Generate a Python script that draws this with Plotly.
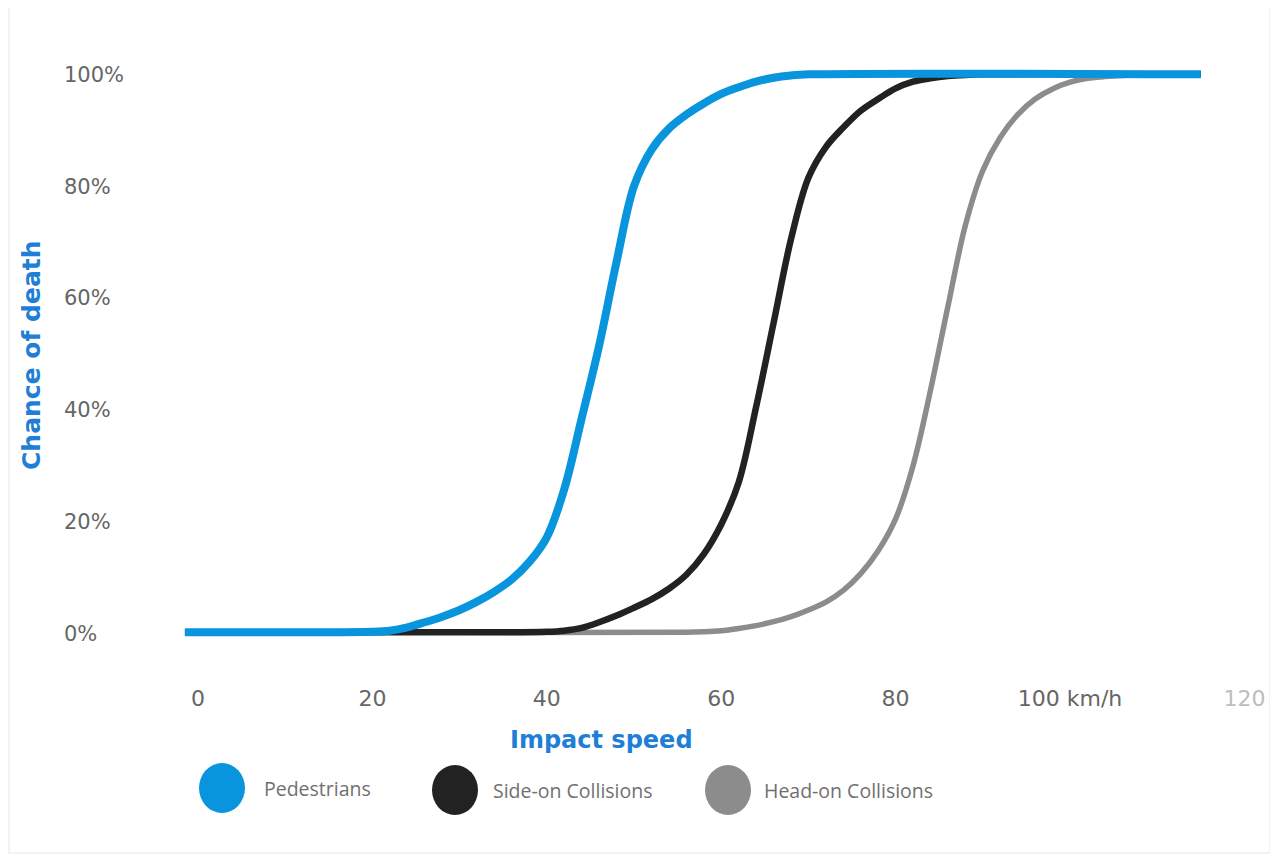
import plotly.graph_objects as go

# ---- data (impact speed km/h, chance of death %) ----
ped_speed = [-1.5, 10, 20, 22, 24, 26, 28, 30, 32, 34, 36, 38, 40, 42, 44, 46, 48, 50, 52, 54, 56, 58,
             60, 62, 64, 66, 68, 70, 115]
ped_death = [0.2, 0.2, 0.3, 0.5, 1.1, 2.0, 3.0, 4.2, 5.7, 7.5, 9.7, 12.8, 17.2, 25.8, 38.5, 51.5, 66.5, 80.0,
             86.5, 90.3, 92.8, 94.8, 96.5, 97.7, 98.7, 99.4, 99.8, 100, 100]

side_speed = [-1.5, 20, 40, 42, 44, 46, 48, 50, 52, 54, 56, 58, 60, 62, 64, 66, 68, 70, 72, 74, 76, 78,
              80, 82, 84, 86, 88, 90, 115]
side_death = [0.2, 0.2, 0.3, 0.5, 1.0, 2.0, 3.2, 4.6, 6.1, 8.0, 10.5, 14.2, 19.5, 27.0, 40.5, 55.5, 70.5, 81.5,
              87.0, 90.5, 93.5, 95.6, 97.5, 98.7, 99.3, 99.7, 99.9, 100, 100]

head_speed = [-1.5, 30, 56, 58, 60, 62, 64, 66, 68, 70, 72, 74, 76, 78, 80, 82, 84, 86, 88, 90, 92, 94,
              96, 98, 100, 102, 104, 106, 108, 110, 115]
head_death = [0.2, 0.2, 0.2, 0.3, 0.5, 0.9, 1.4, 2.1, 3.0, 4.2, 5.6, 7.7, 10.7, 14.8, 20.5, 30.0, 43.5, 58.5,
              73.0, 82.8, 88.7, 92.8, 95.6, 97.4, 98.6, 99.3, 99.6, 99.8, 99.9, 100, 100]

series_names = ["Pedestrians", "Side-on Collisions", "Head-on Collisions"]
series_colors = ["#0895dd", "#222222", "#8c8c8c"]

x_tickvals = [0, 20, 40, 60, 80, 100, 120]
x_ticktext = ["0", "20", "40", "60", "80", "100 km/h", "<span style='color:#bdbdbd'>120</span>"]
y_tickvals = [0, 20, 40, 60, 80, 100]
y_ticktext = ["0%", "20%", "40%", "60%", "80%", "100%"]

# page offset caused by default body margin
OFF = 8
W, H = 1278 - OFF, 857 - OFF
ML, MR, MT, MB = 47, 7, 44, 190
PW, PH = W - ML - MR, H - MT - MB


def px(xp):  # page pixel x -> paper
    return (xp - OFF - ML) / PW


def py(yp):  # page pixel y -> paper
    return (H - MB - (yp - OFF)) / PH


fig = go.Figure()
# draw gray, black, then blue on top
for sx, sy, name, col, wd in [
    (head_speed, head_death, series_names[2], series_colors[2], 5.5),
    (side_speed, side_death, series_names[1], series_colors[1], 6.5),
    (ped_speed, ped_death, series_names[0], series_colors[0], 8),
]:
    fig.add_trace(go.Scatter(
        x=sx, y=sy, mode="lines", name=name,
        line=dict(color=col, width=wd, shape="spline", smoothing=1.0),
        showlegend=False, hoverinfo="skip",
    ))

fig.update_layout(
    width=W, height=H,
    margin=dict(l=ML, r=MR, t=MT, b=MB),
    paper_bgcolor="white", plot_bgcolor="white",
    xaxis=dict(
        range=[-16.4, 123.05], tickvals=x_tickvals, ticktext=x_ticktext,
        showgrid=False, zeroline=False, showline=False, ticks="",
        tickfont=dict(family="DejaVu Sans", size=22, color="#666666"), ticklabelstandoff=16,
    ),
    yaxis=dict(
        range=[-6, 104], tickvals=y_tickvals, ticktext=y_ticktext,
        showgrid=False, zeroline=False, showline=False, ticks="",
        tickfont=dict(family="DejaVu Sans", size=21, color="#666666"),
        ticklabelposition="inside", ticklabelstandoff=6,
    ),
)

annotations = [
    dict(text="<b>Impact speed</b>", x=px(601), y=py(740), xref="paper", yref="paper",
         showarrow=False, xanchor="center", yanchor="middle",
         font=dict(family="DejaVu Sans", size=24, color="#1f7fd6")),
    dict(text="<b>Chance of death</b>", x=px(31), y=py(355), xref="paper", yref="paper",
         showarrow=False, xanchor="center", yanchor="middle", textangle=-90,
         font=dict(family="DejaVu Sans", size=25, color="#1f7fd6")),
]

shapes = [
    dict(type="rect", xref="paper", yref="paper", x0=px(9), x1=px(1270), y0=py(853), y1=py(6),
         line=dict(color="#eeeeee", width=1.5), fillcolor="rgba(0,0,0,0)", layer="below"),
]

legend_items = [
    (222, 788, 262),
    (455, 790, 491),
    (728, 790, 762),
]
for (cx, cy, tx), name, col in zip(legend_items, series_names, series_colors):
    shapes.append(dict(type="circle", xref="paper", yref="paper",
                       x0=px(cx - 23), x1=px(cx + 23), y0=py(cy + 25), y1=py(cy - 25),
                       fillcolor=col, line=dict(color=col, width=0)))
    annotations.append(dict(text=name, x=px(tx), y=py(cy), xref="paper", yref="paper",
                            showarrow=False, xanchor="left", yanchor="middle",
                            font=dict(family="Open Sans", size=19.5, color="#707070")))

fig.update_layout(annotations=annotations, shapes=shapes)
fig.write_html("out.html")
